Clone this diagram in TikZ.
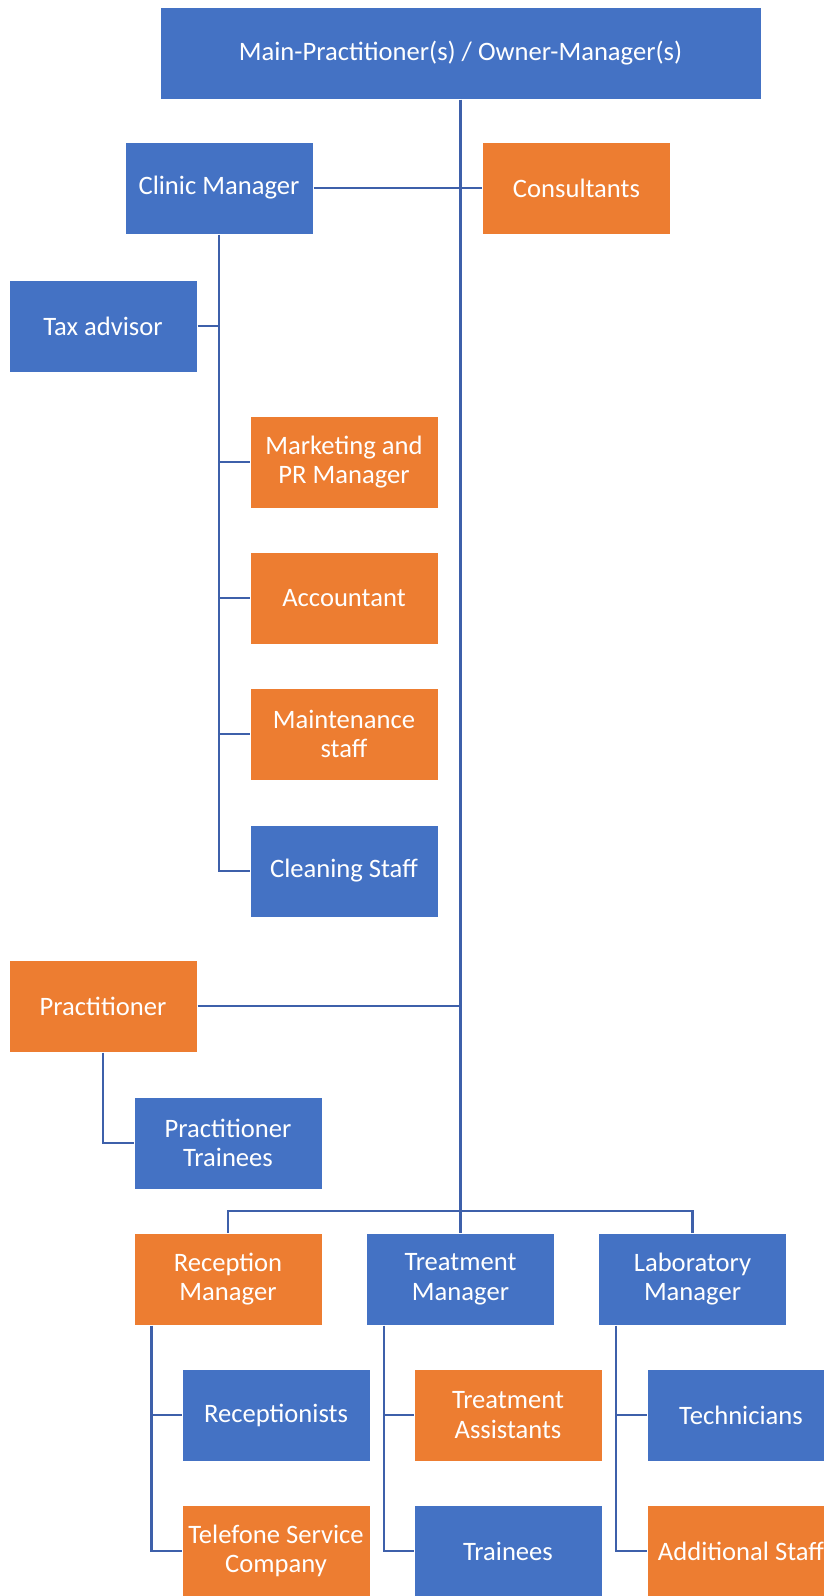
\documentclass[tikz,border=0pt]{standalone}
\usepackage{fontspec}
\setmainfont{Carlito}
\definecolor{boxblue}{HTML}{4472C4}
\definecolor{boxorange}{HTML}{ED7D31}
\definecolor{linkblue}{RGB}{62,96,170}

\begin{document}
\begin{tikzpicture}[
  x=1pt, y=-1pt,
  every node/.style={font=\fontsize{26.6}{29.5}\selectfont, text=white, align=center},
  unit/.style={draw=white, line width=1pt, minimum width=188pt, minimum height=92pt, inner sep=2pt},
  bluebox/.style={unit, fill=boxblue},
  orangebox/.style={unit, fill=boxorange},
  link/.style={linkblue, line width=2.8pt}
]
  \useasboundingbox (0,0) rectangle (824,1596);
  \clip (0,0) rectangle (824,1596);

  % top level
  \node[bluebox, minimum width=601pt] (owner) at (460.5,53) {Main-Practitioner(s) / Owner-Manager(s)};

  % management
  \node[bluebox]   (clinic)  at (219,188)  {Clinic Manager};
  \node[orangebox] (consult) at (576.5,188) {Consultants};
  \node[bluebox]   (tax)     at (103,326)  {Tax advisor};
  \node[orangebox] (mkt)     at (344,462)  {Marketing and\\PR Manager};
  \node[orangebox] (acct)    at (344,598)  {Accountant};
  \node[orangebox] (maint)   at (344,734)  {Maintenance\\staff};
  \node[bluebox]   (clean)   at (344,871)  {Cleaning Staff};

  % practitioners
  \node[orangebox] (pract)   at (103,1006) {Practitioner};
  \node[bluebox]   (ptrain)  at (228,1143) {Practitioner\\Trainees};

  % departments
  \node[orangebox] (recm)    at (228,1279)   {Reception\\Manager};
  \node[bluebox]   (trtm)    at (460.5,1279) {Treatment\\Manager};
  \node[bluebox]   (labm)    at (692.5,1279) {Laboratory\\Manager};

  \node[bluebox]   (recp)    at (276,1415)   {Receptionists};
  \node[orangebox] (tele)    at (276,1551)   {Telefone Service\\Company};
  \node[orangebox] (tass)    at (508,1415)   {Treatment\\Assistants};
  \node[bluebox]   (trn)     at (508,1551)   {Trainees};
  \node[bluebox]   (tech)    at (741,1415)   {Technicians};
  \node[orangebox] (addl)    at (741,1551)   {Additional Staff};

  \coordinate (bus) at (460.5,1211);

  % main spine
  \draw[link] (owner.south) -- (trtm.north);
  \draw[link] (clinic.east) -- (consult.west);
  \draw[link] (pract.east) -- (pract.east -| owner.south);
  \draw[link] (recm.north) |- (bus) -| (labm.north);

  % clinic manager branch
  \draw[link] (clinic.south) |- (clean.west);
  \draw[link] (tax.east) -- (tax.east -| clinic.south);
  \foreach \n in {mkt, acct, maint}
    \draw[link] (\n.west -| clinic.south) -- (\n.west);

  % practitioner branch
  \draw[link] (pract.south) |- (ptrain.west);

  % department branches
  \foreach \m/\a/\b in {recm/recp/tele, trtm/tass/trn, labm/tech/addl} {
    \coordinate (stem) at ([xshift=18pt]\m.south west);
    \draw[link] (stem) |- (\b.west);
    \draw[link] (\a.west -| stem) -- (\a.west);
  }
\end{tikzpicture}
\end{document}
